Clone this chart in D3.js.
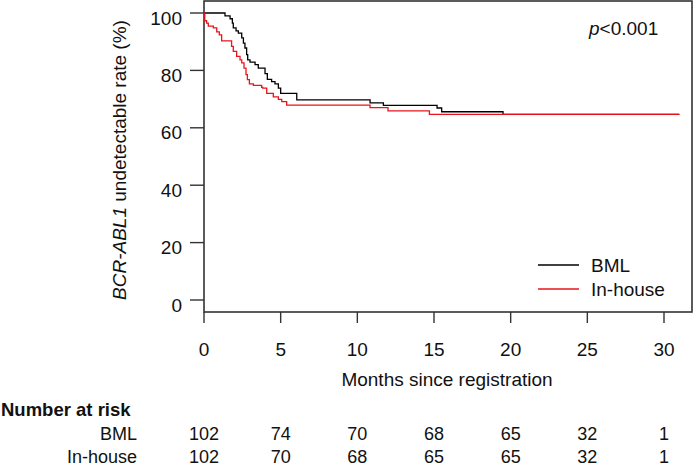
<!DOCTYPE html>
<html>
<head>
<meta charset="utf-8">
<script src="https://cdn.jsdelivr.net/npm/d3@7"></script>
<style>
  html, body { margin: 0; padding: 0; background: #fff; }
  svg { display: block; font-family: "Liberation Sans", Arial, sans-serif; }
</style>
</head>
<body>
<svg id="chart" width="700" height="466"></svg>
<script>
// ---- Data ----
const bmlTimes = [0, 1.37, 1.70, 1.85, 1.91, 2.09, 2.24, 2.46, 2.57, 2.67, 2.78, 2.85, 3.00, 3.33, 3.54, 3.98, 4.13, 4.41, 4.63, 4.85, 5.00, 6.05, 10.83, 11.70, 15.20, 15.50, 19.50, 31.0];
const bmlSurv  = [100, 99.0, 98.0, 96.5, 94.8, 93.8, 93.0, 91.3, 89.5, 87.8, 85.5, 83.7, 82.9, 82.0, 80.8, 78.9, 76.9, 76.1, 75.3, 73.8, 72.0, 69.7, 68.7, 67.8, 66.9, 65.6, 64.7, 64.7];
const inhTimes = [0, 0.05, 0.17, 0.28, 0.61, 0.83, 1.00, 1.15, 1.80, 1.91, 2.13, 2.35, 2.46, 2.61, 2.74, 2.83, 2.96, 3.22, 3.76, 3.83, 4.09, 4.52, 4.85, 5.07, 5.39, 10.83, 12.00, 14.70, 31.0];
const inhSurv  = [100, 97.3, 96.5, 95.4, 94.8, 93.4, 92.4, 90.3, 88.4, 86.6, 84.9, 83.7, 82.6, 80.8, 78.5, 76.8, 75.3, 74.8, 74.1, 73.8, 72.0, 70.8, 69.9, 69.1, 67.9, 67.0, 65.9, 64.7, 64.7];

const xTicks = [0, 5, 10, 15, 20, 25, 30];
const yTicks = [0, 20, 40, 60, 80, 100];
const groups = ["BML", "In-house"];
const groupColors = ["#000000", "#e8141c"];
const atRiskBML = [102, 74, 70, 68, 65, 32, 1];
const atRiskInh = [102, 70, 68, 65, 65, 32, 1];

// ---- Layout ----
const svg = d3.select("#chart");
const x = d3.scaleLinear().domain([0, 30]).range([204, 664]);
const y = d3.scaleLinear().domain([0, 100]).range([300, 13]);
const box = {left: 204, top: 1, right: 692, bottom: 312};
const axisColor = "#333";
const fs = 19;

// frame
svg.append("rect")
  .attr("x", box.left).attr("y", box.top)
  .attr("width", box.right - box.left).attr("height", box.bottom - box.top)
  .attr("fill", "none").attr("stroke", axisColor).attr("stroke-width", 1.6);

// x ticks
const xg = svg.append("g");
xg.selectAll("line").data(xTicks).join("line")
  .attr("x1", d => x(d)).attr("x2", d => x(d))
  .attr("y1", box.bottom).attr("y2", box.bottom + 11)
  .attr("stroke", axisColor).attr("stroke-width", 1.4);
xg.selectAll("text").data(xTicks).join("text")
  .attr("x", d => x(d)).attr("y", 356)
  .attr("text-anchor", "middle").attr("font-size", fs).attr("fill", "#111")
  .text(d => d);

// y ticks
const yg = svg.append("g");
yg.selectAll("line").data(yTicks).join("line")
  .attr("x1", box.left - 14).attr("x2", box.left)
  .attr("y1", d => y(d)).attr("y2", d => y(d))
  .attr("stroke", axisColor).attr("stroke-width", 1.4);
yg.selectAll("text").data(yTicks).join("text")
  .attr("x", 182).attr("y", d => y(d) + 11.5)
  .attr("text-anchor", "end").attr("font-size", fs).attr("fill", "#111")
  .text(d => d);

// axis titles
svg.append("text")
  .attr("x", 447).attr("y", 386)
  .attr("text-anchor", "middle").attr("font-size", fs).attr("fill", "#111")
  .text("Months since registration");

const yl = svg.append("text")
  .attr("transform", "translate(126,160) rotate(-90)")
  .attr("text-anchor", "middle").attr("font-size", fs).attr("fill", "#111");
yl.append("tspan").attr("font-style", "italic").text("BCR-ABL1");
yl.append("tspan").text(" undetectable rate (%)");

// curves
const line = d3.line().curve(d3.curveStepAfter).x(d => x(d[0])).y(d => y(d[1]));
const series = [
  d3.zip(bmlTimes, bmlSurv),
  d3.zip(inhTimes, inhSurv)
];
// draw red first then black on top? reference shows red over black at overlap
svg.append("path").datum(series[0])
  .attr("d", line).attr("fill", "none")
  .attr("stroke", groupColors[0]).attr("stroke-width", 1.3);
svg.append("path").datum(series[1])
  .attr("d", line).attr("fill", "none")
  .attr("stroke", groupColors[1]).attr("stroke-width", 1.3);

// p-value
const pt = svg.append("text")
  .attr("x", 589).attr("y", 35).attr("font-size", fs).attr("fill", "#111");
pt.append("tspan").attr("font-style", "italic").text("p");
pt.append("tspan").text("<0.001");

// legend
const leg = svg.append("g");
groups.forEach((g, i) => {
  const ly = 265 + i * 24;
  leg.append("line").attr("x1", 538).attr("x2", 579).attr("y1", ly).attr("y2", ly)
    .attr("stroke", groupColors[i]).attr("stroke-width", 1.4);
  leg.append("text").attr("x", 591).attr("y", ly + 7)
    .attr("font-size", fs).attr("fill", "#111").text(g);
});

// number at risk table
svg.append("text")
  .attr("x", 1).attr("y", 416).attr("font-size", 18.5).attr("font-weight", "bold")
  .attr("fill", "#111").text("Number at risk");
const rows = [atRiskBML, atRiskInh];
rows.forEach((vals, i) => {
  const by = 440 + i * 23;
  svg.append("text").attr("x", 137).attr("y", by)
    .attr("text-anchor", "end").attr("font-size", 18).attr("fill", "#111")
    .text(groups[i]);
  svg.append("g").selectAll("text").data(vals).join("text")
    .attr("x", (d, j) => x(xTicks[j])).attr("y", by)
    .attr("text-anchor", "middle").attr("font-size", 18).attr("fill", "#111")
    .text(d => d);
});
</script>
</body>
</html>
